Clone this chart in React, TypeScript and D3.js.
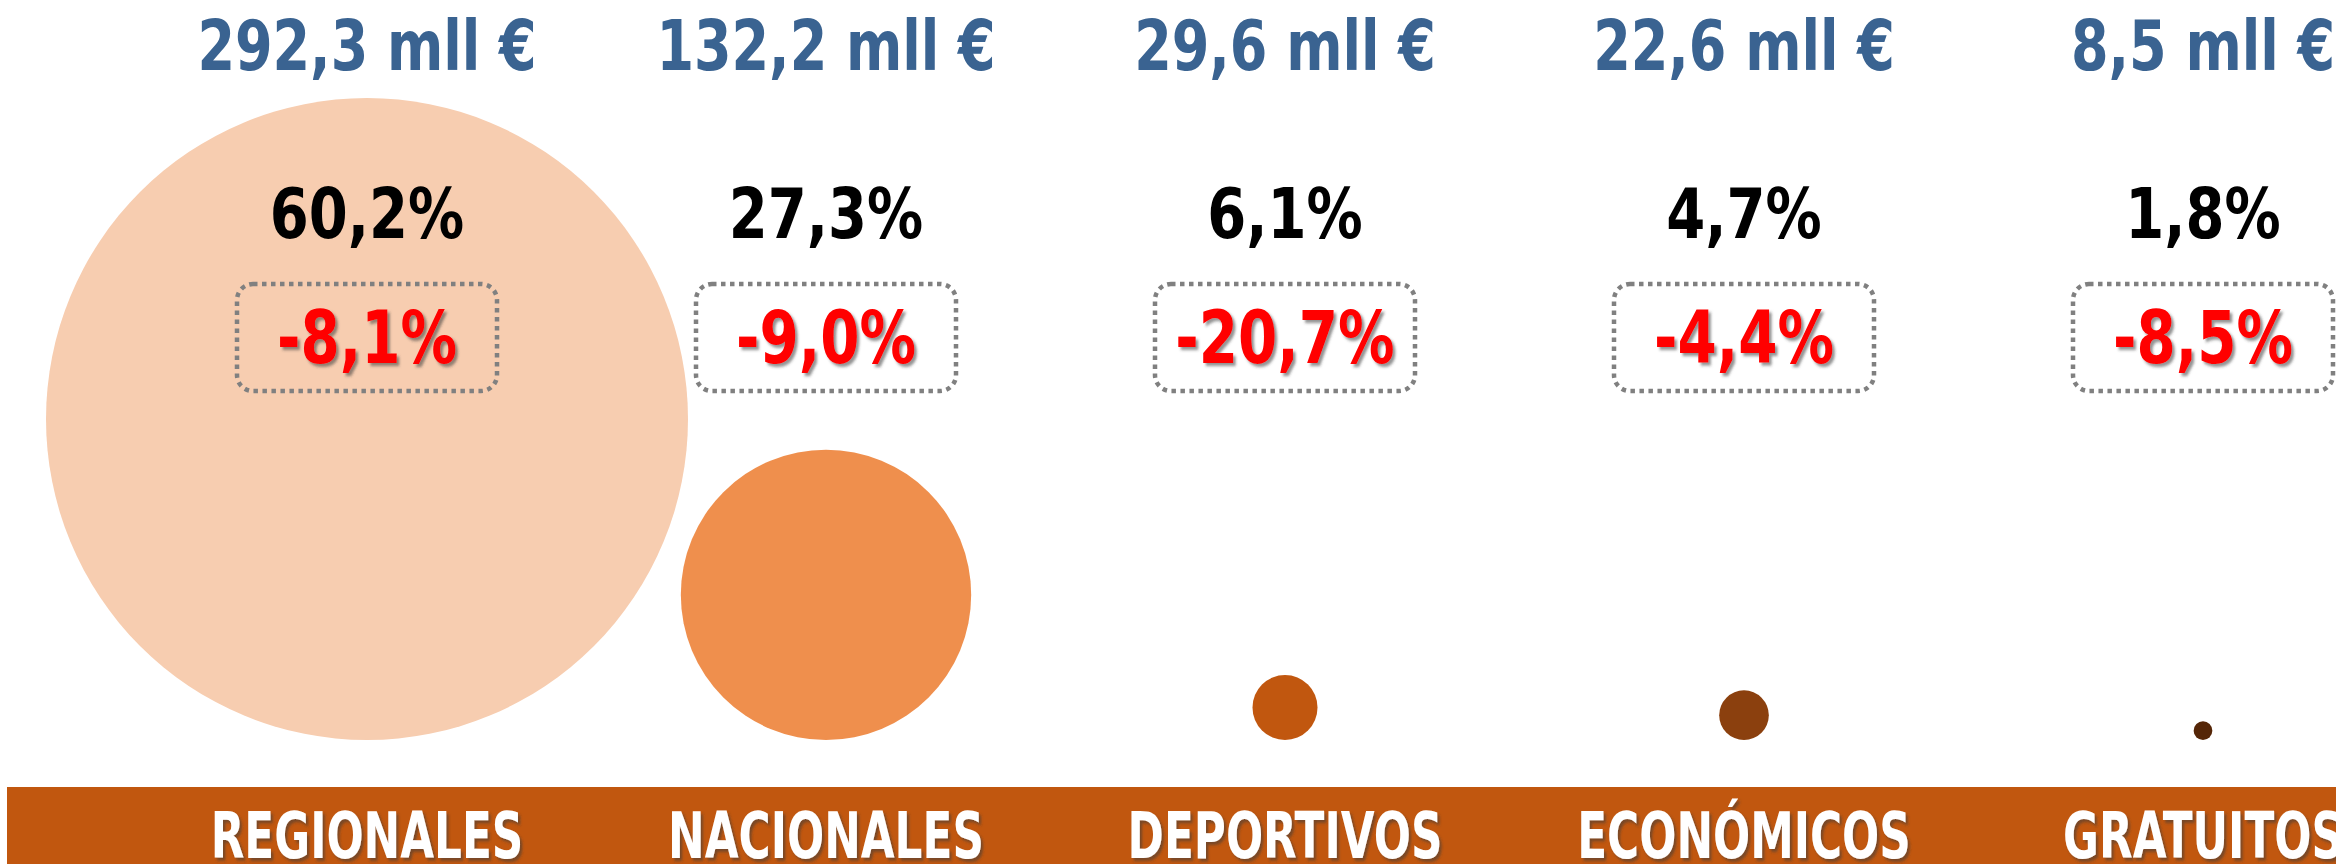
import React from 'react';
import * as d3 from 'd3';

// ---- data ----
const categories = ['REGIONALES', 'NACIONALES', 'DEPORTIVOS', 'ECONÓMICOS', 'GRATUITOS'];
const amounts = [292.3, 132.2, 29.6, 22.6, 8.5]; // mll €
const shares = [60.2, 27.3, 6.1, 4.7, 1.8]; // %
const changes = [-8.1, -9.0, -20.7, -4.4, -8.5]; // %
const circleColors = ['#F7CDB0', '#EF8F4D', '#C1570F', '#8B400E', '#552607'];

const W = 2336;
const H = 864;
const FONT = "'DejaVu Sans Condensed', 'Liberation Sans Narrow', 'Liberation Sans', sans-serif";

const fmt = (v: number) => v.toFixed(1).replace('.', ',');

type TProps = {
  x: number;
  y: number;
  sx: number;
  size: number;
  fill: string;
  filter?: string;
  spacing?: number;
  children: React.ReactNode;
};

function SText({ x, y, sx, size, fill, filter, spacing = 0, children }: TProps) {
  return (
    <g transform={`translate(${x},${y}) scale(${sx},1)`}>
      <text
        x={0}
        y={0}
        textAnchor="middle"
        fontFamily={FONT}
        fontWeight="bold"
        fontSize={size}
        letterSpacing={spacing}
        fill={fill}
        filter={filter}
      >
        {children}
      </text>
    </g>
  );
}

export default function App() {
  const x = d3.scalePoint<string>().domain(categories).range([367, 2203]);
  const r = d3.scaleLinear().domain([0, d3.max(amounts) as number]).range([0, 321]);
  const circleBase = 740;
  const boxW = 260;
  const boxH = 107;

  return (
    <svg
      width={W}
      height={H}
      style={{ position: 'absolute', left: 0, top: 0, overflow: 'hidden', background: '#fff' }}
    >
      <defs>
        <filter id="shadow" x="-20%" y="-20%" width="140%" height="150%">
          <feDropShadow dx="3" dy="3" stdDeviation="1.5" floodColor="#3a3a3a" floodOpacity="0.55" />
        </filter>
      </defs>
      <rect x={0} y={0} width={W} height={H} fill="#ffffff" />

      {/* circles */}
      {categories.map((c, i) => (
        <circle
          key={'c' + c}
          cx={x(c)}
          cy={circleBase - r(amounts[i])}
          r={r(amounts[i])}
          fill={circleColors[i]}
        />
      ))}

      {/* amounts */}
      {categories.map((c, i) => (
        <SText key={'a' + c} x={x(c) as number} y={70} sx={0.87} size={69} fill="#3A6391">
          {fmt(amounts[i])} mll €
        </SText>
      ))}

      {/* shares */}
      {categories.map((c, i) => (
        <SText key={'s' + c} x={x(c) as number} y={238} sx={0.89} size={70} fill="#000">
          {fmt(shares[i])}%
        </SText>
      ))}

      {/* change boxes */}
      {categories.map((c, i) => (
        <g key={'b' + c}>
          <rect
            x={(x(c) as number) - boxW / 2}
            y={284}
            width={boxW}
            height={boxH}
            rx={16}
            ry={16}
            fill="none"
            stroke="#808080"
            strokeWidth={4.5}
            strokeDasharray="4.5 4.5"
          />
          <SText
            x={x(c) as number}
            y={363}
            sx={0.86}
            size={73}
            fill="#FF0000"
            filter="url(#shadow)"
          >
            {fmt(changes[i])}%
          </SText>
        </g>
      ))}

      {/* category band */}
      <rect x={7} y={787} width={W - 7} height={H - 787} fill="#C1570F" />
      {categories.map((c) => (
        <SText key={'l' + c} x={x(c) as number} y={858} sx={0.76} size={64} fill="#fff" filter="url(#shadow)">
          {c}
        </SText>
      ))}
    </svg>
  );
}
